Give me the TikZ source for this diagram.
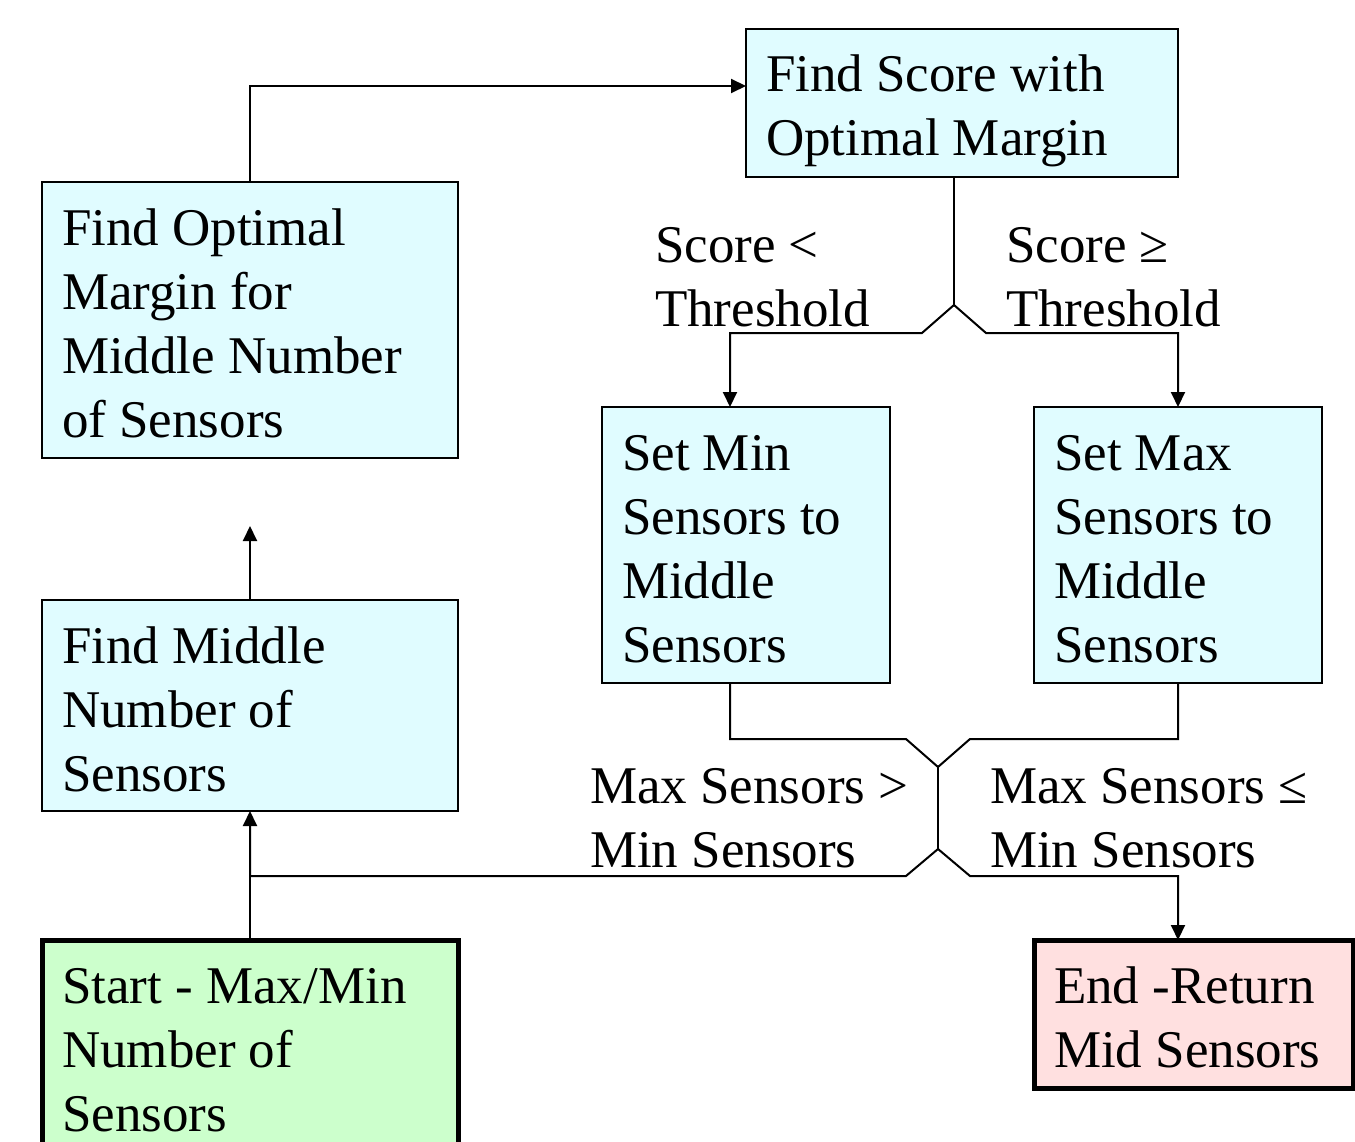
\documentclass[tikz,border=0pt]{standalone}
\usepackage{fontspec}
\newfontfamily\timesf{Liberation Serif}
\usetikzlibrary{arrows.meta}
\definecolor{boxblue}{RGB}{224,252,255}
\definecolor{boxgreen}{RGB}{204,255,204}
\definecolor{boxpink}{RGB}{255,224,224}
\newcommand\Fh{\rule{0pt}{40pt}}
\tikzset{
  box/.style={draw=black, line width=2pt, fill=boxblue, inner sep=0pt, outer sep=0pt, anchor=north west},
  termbox/.style={box, line width=5pt},
  txt/.style={anchor=north west, inner sep=0pt, outer sep=0pt, align=left, font=\timesf\fontsize{53}{64}\selectfont},
  conn/.style={draw=black, line width=2pt},
  arr/.style={conn, -{Triangle[length=15pt,width=14pt]}}
}
\begin{document}
\begin{tikzpicture}[x=1pt,y=-1pt]
\useasboundingbox (0,0) rectangle (1355,1142);
% boxes
\node[box, minimum width=432pt, minimum height=148pt] (score) at (746,29) {};
\node[box, minimum width=416pt, minimum height=276pt] (opt) at (42,182) {};
\node[box, minimum width=288pt, minimum height=276pt] (setmin) at (602,407) {};
\node[box, minimum width=288pt, minimum height=276pt] (setmax) at (1034,407) {};
\node[box, minimum width=416pt, minimum height=211pt] (mid) at (42,600) {};
\node[termbox, fill=boxgreen, minimum width=416pt, minimum height=260pt] (start) at (42,940) {};
\node[termbox, fill=boxpink, minimum width=319pt, minimum height=148pt] (end) at (1034,940) {};
% box texts
\node[txt] (tscore) at (766,52) {\Fh Find Score with\\Optimal Margin};
\node[txt] (topt) at (62,205) {\Fh Find Optimal\\Margin for\\Middle Number\\of Sensors};
\node[txt] (tsetmin) at (622,430) {\Fh Set Min\\Sensors to\\Middle\\Sensors};
\node[txt] (tsetmax) at (1054,430) {\Fh Set Max\\Sensors to\\Middle\\Sensors};
\node[txt] (tmid) at (62,623) {\Fh Find Middle\\Number of\\Sensors};
\node[txt] (tstart) at (62,963) {\Fh Start - Max/Min\\Number of\\Sensors};
\node[txt] (tend) at (1054,963) {\Fh End -Return\\Mid Sensors};
% labels
\node[txt] (lsl) at (655,222) {\Fh Score <\\Threshold};
\node[txt] (lsg) at (1006,222) {\Fh Score ≥\\Threshold};
\node[txt] (lmg) at (590,763) {\Fh Max Sensors >\\Min Sensors};
\node[txt] (lml) at (990,763) {\Fh Max Sensors ≤\\Min Sensors};
% junction coordinates
\coordinate (j1) at (954,305);
\coordinate (j2) at (938,767);
\coordinate (j3) at (938,849);
% connectors
\draw[arr] (opt.north) |- ([yshift=-57pt]score.north west);
\draw[arr] (mid.north) -- ++(0,-74);
\draw[conn] ([xshift=-8pt]score.south) -- (j1);
\draw[arr] (j1) -- ++(-32,28) -| ([xshift=-16pt]setmin.north);
\draw[arr] (j1) -- ++(32,28) -| (setmax.north);
\draw[conn] ([xshift=-16pt]setmin.south) |- (906,739) -- (j2);
\draw[conn] (setmax.south) |- (970,739) -- (j2);
\draw[conn] (j2) -- (j3);
\draw[arr] (j3) -- ++(-32,27) -| (mid.south);
\draw[arr] (j3) -- ++(32,27) -| ([xshift=-15.5pt]end.north);
\draw[conn] (start.north) -- ++(0,-64);
\end{tikzpicture}
\end{document}
